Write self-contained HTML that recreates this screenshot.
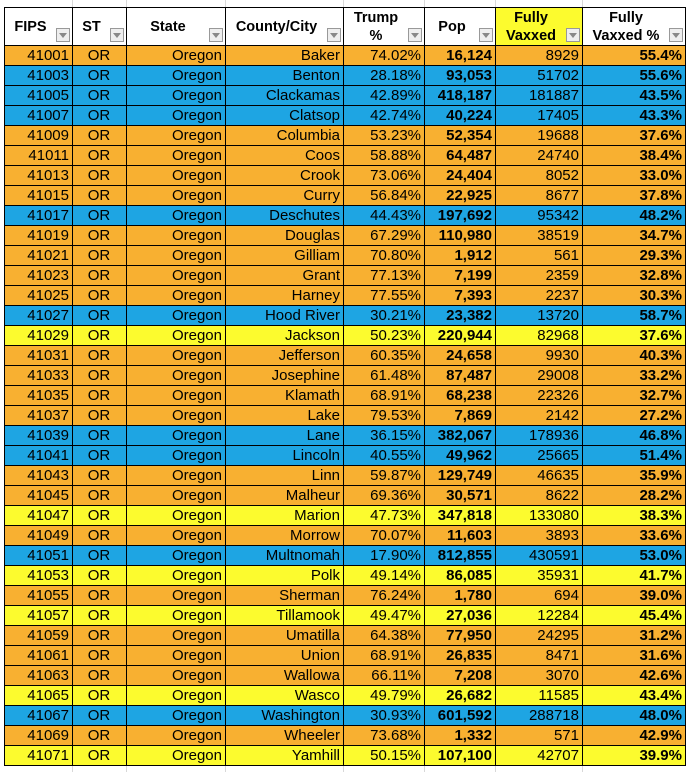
<!DOCTYPE html>
<html><head><meta charset="utf-8"><style>
body{margin:0;width:691px;height:772px;background:#fff;position:relative;overflow:hidden;font-family:"Liberation Sans",Arial,sans-serif;}
.g{position:absolute;background:#d8d8d8;width:1px}
table{position:absolute;left:4px;top:7px;border-collapse:collapse;table-layout:fixed;}
td{border:1px solid #000;height:19px;padding:0 3px 0 2px;font-size:15px;text-align:right;white-space:nowrap;overflow:hidden;line-height:19px;}
th{border:1px solid #000;height:37px;font-size:14.5px;font-weight:bold;position:relative;background:#fff;padding:0 16px 0 0;line-height:18px;}
th .d{position:absolute;right:2px;bottom:3px;width:12px;height:12px;border:1px solid #999;background:#eee;}
th .d:after{content:"";position:absolute;left:2px;top:4px;border-left:4px solid transparent;border-right:4px solid transparent;border-top:5px solid #888;}
.c{text-align:center}
.b{font-weight:bold}
.O td{background:#f8b031}.B td{background:#1ea5e3}.Y td{background:#fcfb2e}
</style></head><body>
<div class="g" style="left:72px;top:0;height:772px"></div><div class="g" style="left:126px;top:0;height:772px"></div><div class="g" style="left:225px;top:0;height:772px"></div><div class="g" style="left:343px;top:0;height:772px"></div><div class="g" style="left:424px;top:0;height:772px"></div><div class="g" style="left:495px;top:0;height:772px"></div><div class="g" style="left:582px;top:0;height:772px"></div>
<table>
<colgroup><col style="width:68px"><col style="width:54px"><col style="width:99px"><col style="width:118px"><col style="width:81px"><col style="width:71px"><col style="width:87px"><col style="width:103px"></colgroup>
<tr><th>FIPS<span class="d"></span></th><th>ST<span class="d"></span></th><th>State<span class="d"></span></th><th>County/City<span class="d"></span></th><th>Trump<br>%<span class="d"></span></th><th>Pop<span class="d"></span></th><th style="background:#fcfb2e">Fully<br>Vaxxed<span class="d"></span></th><th>Fully<br>Vaxxed %<span class="d"></span></th></tr>
<tr class="O"><td>41001</td><td class="c">OR</td><td>Oregon</td><td>Baker</td><td>74.02%</td><td class="b">16,124</td><td>8929</td><td class="b">55.4%</td></tr>
<tr class="B"><td>41003</td><td class="c">OR</td><td>Oregon</td><td>Benton</td><td>28.18%</td><td class="b">93,053</td><td>51702</td><td class="b">55.6%</td></tr>
<tr class="B"><td>41005</td><td class="c">OR</td><td>Oregon</td><td>Clackamas</td><td>42.89%</td><td class="b">418,187</td><td>181887</td><td class="b">43.5%</td></tr>
<tr class="B"><td>41007</td><td class="c">OR</td><td>Oregon</td><td>Clatsop</td><td>42.74%</td><td class="b">40,224</td><td>17405</td><td class="b">43.3%</td></tr>
<tr class="O"><td>41009</td><td class="c">OR</td><td>Oregon</td><td>Columbia</td><td>53.23%</td><td class="b">52,354</td><td>19688</td><td class="b">37.6%</td></tr>
<tr class="O"><td>41011</td><td class="c">OR</td><td>Oregon</td><td>Coos</td><td>58.88%</td><td class="b">64,487</td><td>24740</td><td class="b">38.4%</td></tr>
<tr class="O"><td>41013</td><td class="c">OR</td><td>Oregon</td><td>Crook</td><td>73.06%</td><td class="b">24,404</td><td>8052</td><td class="b">33.0%</td></tr>
<tr class="O"><td>41015</td><td class="c">OR</td><td>Oregon</td><td>Curry</td><td>56.84%</td><td class="b">22,925</td><td>8677</td><td class="b">37.8%</td></tr>
<tr class="B"><td>41017</td><td class="c">OR</td><td>Oregon</td><td>Deschutes</td><td>44.43%</td><td class="b">197,692</td><td>95342</td><td class="b">48.2%</td></tr>
<tr class="O"><td>41019</td><td class="c">OR</td><td>Oregon</td><td>Douglas</td><td>67.29%</td><td class="b">110,980</td><td>38519</td><td class="b">34.7%</td></tr>
<tr class="O"><td>41021</td><td class="c">OR</td><td>Oregon</td><td>Gilliam</td><td>70.80%</td><td class="b">1,912</td><td>561</td><td class="b">29.3%</td></tr>
<tr class="O"><td>41023</td><td class="c">OR</td><td>Oregon</td><td>Grant</td><td>77.13%</td><td class="b">7,199</td><td>2359</td><td class="b">32.8%</td></tr>
<tr class="O"><td>41025</td><td class="c">OR</td><td>Oregon</td><td>Harney</td><td>77.55%</td><td class="b">7,393</td><td>2237</td><td class="b">30.3%</td></tr>
<tr class="B"><td>41027</td><td class="c">OR</td><td>Oregon</td><td>Hood River</td><td>30.21%</td><td class="b">23,382</td><td>13720</td><td class="b">58.7%</td></tr>
<tr class="Y"><td>41029</td><td class="c">OR</td><td>Oregon</td><td>Jackson</td><td>50.23%</td><td class="b">220,944</td><td>82968</td><td class="b">37.6%</td></tr>
<tr class="O"><td>41031</td><td class="c">OR</td><td>Oregon</td><td>Jefferson</td><td>60.35%</td><td class="b">24,658</td><td>9930</td><td class="b">40.3%</td></tr>
<tr class="O"><td>41033</td><td class="c">OR</td><td>Oregon</td><td>Josephine</td><td>61.48%</td><td class="b">87,487</td><td>29008</td><td class="b">33.2%</td></tr>
<tr class="O"><td>41035</td><td class="c">OR</td><td>Oregon</td><td>Klamath</td><td>68.91%</td><td class="b">68,238</td><td>22326</td><td class="b">32.7%</td></tr>
<tr class="O"><td>41037</td><td class="c">OR</td><td>Oregon</td><td>Lake</td><td>79.53%</td><td class="b">7,869</td><td>2142</td><td class="b">27.2%</td></tr>
<tr class="B"><td>41039</td><td class="c">OR</td><td>Oregon</td><td>Lane</td><td>36.15%</td><td class="b">382,067</td><td>178936</td><td class="b">46.8%</td></tr>
<tr class="B"><td>41041</td><td class="c">OR</td><td>Oregon</td><td>Lincoln</td><td>40.55%</td><td class="b">49,962</td><td>25665</td><td class="b">51.4%</td></tr>
<tr class="O"><td>41043</td><td class="c">OR</td><td>Oregon</td><td>Linn</td><td>59.87%</td><td class="b">129,749</td><td>46635</td><td class="b">35.9%</td></tr>
<tr class="O"><td>41045</td><td class="c">OR</td><td>Oregon</td><td>Malheur</td><td>69.36%</td><td class="b">30,571</td><td>8622</td><td class="b">28.2%</td></tr>
<tr class="Y"><td>41047</td><td class="c">OR</td><td>Oregon</td><td>Marion</td><td>47.73%</td><td class="b">347,818</td><td>133080</td><td class="b">38.3%</td></tr>
<tr class="O"><td>41049</td><td class="c">OR</td><td>Oregon</td><td>Morrow</td><td>70.07%</td><td class="b">11,603</td><td>3893</td><td class="b">33.6%</td></tr>
<tr class="B"><td>41051</td><td class="c">OR</td><td>Oregon</td><td>Multnomah</td><td>17.90%</td><td class="b">812,855</td><td>430591</td><td class="b">53.0%</td></tr>
<tr class="Y"><td>41053</td><td class="c">OR</td><td>Oregon</td><td>Polk</td><td>49.14%</td><td class="b">86,085</td><td>35931</td><td class="b">41.7%</td></tr>
<tr class="O"><td>41055</td><td class="c">OR</td><td>Oregon</td><td>Sherman</td><td>76.24%</td><td class="b">1,780</td><td>694</td><td class="b">39.0%</td></tr>
<tr class="Y"><td>41057</td><td class="c">OR</td><td>Oregon</td><td>Tillamook</td><td>49.47%</td><td class="b">27,036</td><td>12284</td><td class="b">45.4%</td></tr>
<tr class="O"><td>41059</td><td class="c">OR</td><td>Oregon</td><td>Umatilla</td><td>64.38%</td><td class="b">77,950</td><td>24295</td><td class="b">31.2%</td></tr>
<tr class="O"><td>41061</td><td class="c">OR</td><td>Oregon</td><td>Union</td><td>68.91%</td><td class="b">26,835</td><td>8471</td><td class="b">31.6%</td></tr>
<tr class="O"><td>41063</td><td class="c">OR</td><td>Oregon</td><td>Wallowa</td><td>66.11%</td><td class="b">7,208</td><td>3070</td><td class="b">42.6%</td></tr>
<tr class="Y"><td>41065</td><td class="c">OR</td><td>Oregon</td><td>Wasco</td><td>49.79%</td><td class="b">26,682</td><td>11585</td><td class="b">43.4%</td></tr>
<tr class="B"><td>41067</td><td class="c">OR</td><td>Oregon</td><td>Washington</td><td>30.93%</td><td class="b">601,592</td><td>288718</td><td class="b">48.0%</td></tr>
<tr class="O"><td>41069</td><td class="c">OR</td><td>Oregon</td><td>Wheeler</td><td>73.68%</td><td class="b">1,332</td><td>571</td><td class="b">42.9%</td></tr>
<tr class="Y"><td>41071</td><td class="c">OR</td><td>Oregon</td><td>Yamhill</td><td>50.15%</td><td class="b">107,100</td><td>42707</td><td class="b">39.9%</td></tr>
</table>
</body></html>
